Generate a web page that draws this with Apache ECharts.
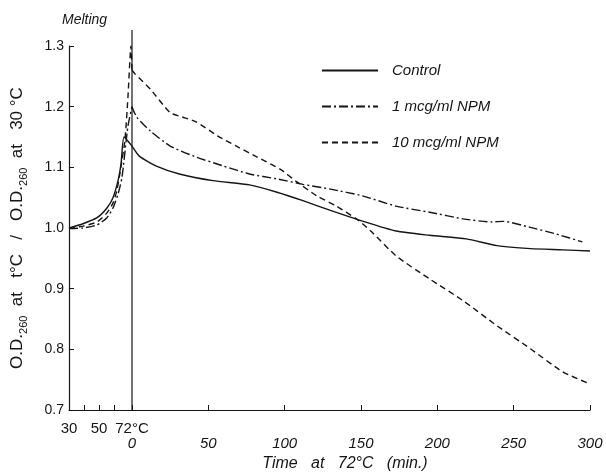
<!DOCTYPE html>
<html>
<head>
<meta charset="utf-8">
<script src="https://cdn.jsdelivr.net/npm/echarts@6/dist/echarts.min.js"></script>
<style>
  html, body { margin: 0; padding: 0; background: #fff; }
  #chart { width: 606px; height: 475px; }
</style>
</head>
<body>
<div id="chart"></div>
<script>
// melting phase: [temperature °C, O.D. ratio]
const meltControl = [[30, 1.0], [39.3, 1.007], [48.7, 1.017], [55.3, 1.033], [59.3, 1.05], [62.7, 1.078], [64.7, 1.106], [66.7, 1.15], [72, 1.135]]
const meltNpm1 = [[30, 0.999], [39.3, 1.0], [48.7, 1.005], [55.3, 1.017], [59.3, 1.033], [62.7, 1.056], [65.3, 1.083], [69.3, 1.168], [72, 1.2]]
const meltNpm10 = [[30, 0.999], [39.3, 1.003], [48.7, 1.01], [55.3, 1.025], [59.3, 1.041], [62, 1.063], [64, 1.091], [67.3, 1.145], [69.3, 1.216], [71.3, 1.3], [72, 1.26]]

// held at 72 °C: [minutes, O.D. ratio]
const timeControl = [[0, 1.135], [5, 1.118], [16, 1.102], [31, 1.089], [53, 1.078], [77, 1.071], [95, 1.059], [112, 1.045], [130, 1.029], [149, 1.013], [173, 0.995], [195, 0.988], [219, 0.982], [239, 0.971], [261, 0.966], [282, 0.964], [300, 0.962]]
const timeNpm1 = [[0, 1.2], [3, 1.183], [12, 1.16], [25, 1.135], [42, 1.117], [60, 1.102], [77, 1.089], [95, 1.081], [112, 1.072], [130, 1.064], [151, 1.053], [173, 1.036], [195, 1.026], [217, 1.015], [236, 1.01], [243, 1.011], [261, 1.001], [278, 0.99], [295, 0.977]]
const timeNpm10 = [[0, 1.26], [2, 1.254], [12, 1.229], [25, 1.19], [33, 1.183], [42, 1.175], [56, 1.152], [69, 1.134], [82, 1.117], [97, 1.097], [108, 1.076], [121, 1.053], [134, 1.036], [147, 1.015], [156, 0.996], [173, 0.954], [195, 0.916], [217, 0.88], [239, 0.839], [261, 0.801], [282, 0.763], [298, 0.745]]

const seriesNames = ['Control', '1 mcg/ml NPM', '10 mcg/ml NPM']
const tempTicks = [40, 50, 60, 72]
const tempLabels = [30, 50, 72]

const ink = '#151515'
const font = 'Liberation Sans'
const dashes = ['solid', [9, 3, 2, 3], [6, 4]]

const chart = echarts.init(document.getElementById('chart'))

function line(name, data, idx, styleIdx) {
  return {
    name: name,
    type: 'line',
    xAxisIndex: idx,
    yAxisIndex: idx,
    data: data,
    smooth: 0.2,
    symbol: 'none',
    lineStyle: { color: ink, width: 1.4, type: dashes[styleIdx] },
    itemStyle: { color: ink },
    silent: true
  }
}

const option = {
  animation: false,
  backgroundColor: '#fff',
  textStyle: { fontFamily: font, color: ink },
  title: {
    text: 'Melting',
    left: 57,
    top: 8,
    textStyle: { fontFamily: font, fontSize: 14, fontStyle: 'italic', fontWeight: 'normal', color: ink }
  },
  legend: {
    data: seriesNames,
    orient: 'vertical',
    left: 316,
    top: 58,
    itemWidth: 56,
    itemHeight: 14,
    itemGap: 21,
    itemStyle: { opacity: 0 },
    textStyle: { fontFamily: font, fontSize: 15, fontStyle: 'italic', color: ink, padding: [0, 0, 0, 9] }
  },
  grid: [
    { left: 69, width: 63, top: 46, height: 364, outerBoundsMode: 'none' },
    { left: 132, width: 458, top: 46, height: 364, outerBoundsMode: 'none' }
  ],
  xAxis: [
    {
      type: 'value',
      gridIndex: 0,
      min: 30,
      max: 72,
      splitLine: { show: false },
      axisLine: { lineStyle: { color: ink, width: 1.2 } },
      axisTick: { inside: true, length: 5, customValues: tempTicks, lineStyle: { color: ink } },
      axisLabel: {
        customValues: tempLabels,
        margin: 11,
        fontSize: 15,
        color: ink,
        fontFamily: font,
        formatter: v => v === 72 ? '72°C' : String(v)
      }
    },
    {
      type: 'value',
      gridIndex: 1,
      min: 0,
      max: 300,
      interval: 50,
      splitLine: { show: false },
      axisLine: { lineStyle: { color: ink, width: 1.2 } },
      axisTick: { inside: true, length: 5, lineStyle: { color: ink } },
      axisLabel: { margin: 26, fontSize: 15, fontStyle: 'italic', color: ink, fontFamily: font },
      name: 'Time   at   72°C   (min.)',
      nameLocation: 'middle',
      nameGap: 46,
      nameTextStyle: { fontSize: 16, fontStyle: 'italic', color: ink, fontFamily: font, padding: [0, 32, 0, 0] }
    }
  ],
  yAxis: [
    {
      type: 'value',
      gridIndex: 0,
      min: 0.7,
      max: 1.3,
      interval: 0.1,
      splitLine: { show: false },
      axisLine: { show: true, lineStyle: { color: ink, width: 1.2 } },
      axisTick: { show: true, inside: true, length: 5, lineStyle: { color: ink } },
      axisLabel: { margin: 5, fontSize: 14, color: ink, fontFamily: font, formatter: v => v.toFixed(1) },
      name: '{m|O.D.}{s|260}{m|  at   t°C   /   O.D.}{s|260}{m|  at   30 °C}',
      nameLocation: 'middle',
      nameGap: 40,
      nameRotate: 90,
      nameTextStyle: {
        rich: {
          m: { fontSize: 17, fontFamily: font, color: ink, lineHeight: 24, verticalAlign: 'middle' },
          s: { fontSize: 11, fontFamily: font, color: ink, lineHeight: 24, verticalAlign: 'bottom', padding: [9, 0, 0, 0] }
        }
      }
    },
    {
      type: 'value',
      gridIndex: 1,
      min: 0.7,
      max: 1.3,
      show: false
    }
  ],
  series: [
    line(seriesNames[0], meltControl, 0, 0),
    line(seriesNames[1], meltNpm1, 0, 1),
    line(seriesNames[2], meltNpm10, 0, 2),
    line(seriesNames[0], timeControl, 1, 0),
    line(seriesNames[1], timeNpm1, 1, 1),
    line(seriesNames[2], timeNpm10, 1, 2)
  ]
}

chart.setOption(option)

// vertical divider at 72 °C / 0 min, running a little above the plot
const divBottom = chart.convertToPixel({ gridIndex: 1 }, [0, 0.7])
const divTop = chart.convertToPixel({ gridIndex: 1 }, [0, 1.3])
chart.setOption({
  graphic: [{
    type: 'line',
    silent: true,
    shape: { x1: divBottom[0], y1: divBottom[1], x2: divTop[0], y2: divTop[1] - 16 },
    style: { stroke: ink, lineWidth: 1.2 }
  }]
})
</script>
</body>
</html>
